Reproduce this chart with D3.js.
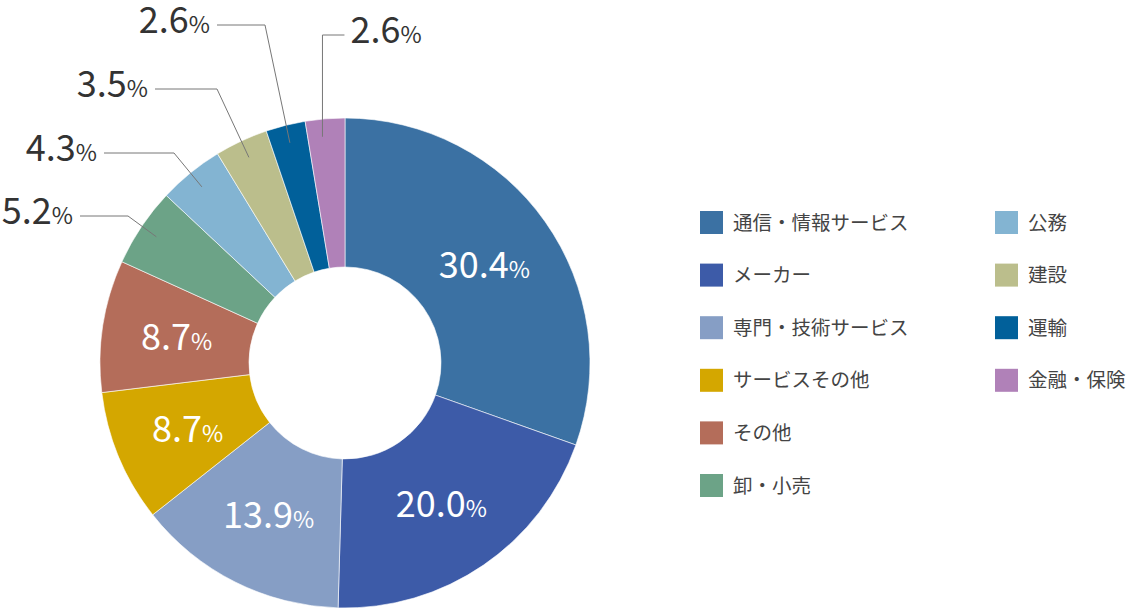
<!DOCTYPE html>
<html>
<head>
<meta charset="utf-8">
<script src="https://cdn.jsdelivr.net/npm/d3@7/dist/d3.min.js"></script>
<style>
  html, body { margin: 0; padding: 0; background: #fff; }
  svg { display: block; font-family: "Noto Sans CJK JP", "Noto Sans", sans-serif; }
</style>
</head>
<body>
<svg id="chart" width="1130" height="610"></svg>
<script>
// ---- data ----
const categories = ["通信・情報サービス", "メーカー", "専門・技術サービス", "サービスその他", "その他", "卸・小売", "公務", "建設", "運輸", "金融・保険"];
const values = [30.4, 20.0, 13.9, 8.7, 8.7, 5.2, 4.3, 3.5, 2.6, 2.6];
const colors = ["#3b71a3", "#3d5ba8", "#869ec5", "#d4a700", "#b46d5a", "#6ca387", "#83b4d2", "#bbbe8c", "#01609a", "#b081b8"];

// ---- layout (not data) ----
const cx = 345, cy = 363, rOuter = 245, rInner = 96, rAnchor = 227;
const insideCount = 5;
const callouts = [
  { i: 5, lineY: 216, startX: 80,  elbowX: 128 },
  { i: 6, lineY: 153, startX: 104, elbowX: 174 },
  { i: 7, lineY: 89,  startX: 155, elbowX: 217 },
  { i: 8, lineY: 25,  startX: 217, elbowX: 265 },
  { i: 9, lineY: 35,  up: true, tail: 22, shift: -4 }
];

const svg = d3.select("#chart");
const g = svg.append("g").attr("transform", `translate(${cx},${cy})`);

const pie = d3.pie().sort(null).value(d => d)(values);
const arc = d3.arc().innerRadius(rInner).outerRadius(rOuter);
const anchorArc = d3.arc().innerRadius(rAnchor).outerRadius(rAnchor);

g.selectAll("path.slice").data(pie).join("path")
  .attr("class", "slice")
  .attr("d", arc)
  .attr("fill", (d, i) => colors[i])
  .attr("stroke", "#ffffff")
  .attr("stroke-width", 0.6);

function pctText(sel, v) {
  sel.append("tspan").attr("font-size", 36).text(v.toFixed(1));
  sel.append("tspan").attr("font-size", 23).text("%");
}

// inside labels
pie.slice(0, insideCount).forEach((d, i) => {
  const [x, y] = arc.centroid(d);
  const t = g.append("text")
    .attr("x", x).attr("y", y + 13)
    .attr("text-anchor", "middle")
    .attr("fill", "#ffffff");
  pctText(t, values[i]);
});

// callouts
callouts.forEach(c => {
  const d = pie[c.i];
  const [ax, ay] = anchorArc.centroid(d);
  const px = cx + ax + (c.shift || 0), py = cy + ay;
  let pts, tx, anchor;
  if (c.up) {
    pts = [[px, py], [px, c.lineY], [px + c.tail, c.lineY]];
    tx = px + c.tail + 6; anchor = "start";
  } else {
    pts = [[c.startX, c.lineY], [c.elbowX, c.lineY], [px, py]];
    tx = c.startX - 7; anchor = "end";
  }
  svg.append("path")
    .attr("d", d3.line()(pts))
    .attr("fill", "none")
    .attr("stroke", "#777")
    .attr("stroke-width", 1);
  const t = svg.append("text")
    .attr("x", tx).attr("y", c.lineY + 8)
    .attr("text-anchor", anchor)
    .attr("fill", "#333");
  pctText(t, values[c.i]);
});

// legend
const legend = svg.append("g");
const colX = [700, 995], rowY0 = 211, rowStep = 52.6, perCol = 6, sw = 23;
categories.forEach((name, i) => {
  const col = Math.floor(i / perCol), row = i % perCol;
  const x = colX[col], y = rowY0 + row * rowStep;
  legend.append("rect").attr("x", x).attr("y", y).attr("width", sw).attr("height", sw).attr("fill", colors[i]);
  legend.append("text").attr("x", x + 33).attr("y", y + sw / 2 + 7)
    .attr("font-size", 19.5).attr("fill", "#444").text(name);
});
</script>
</body>
</html>
